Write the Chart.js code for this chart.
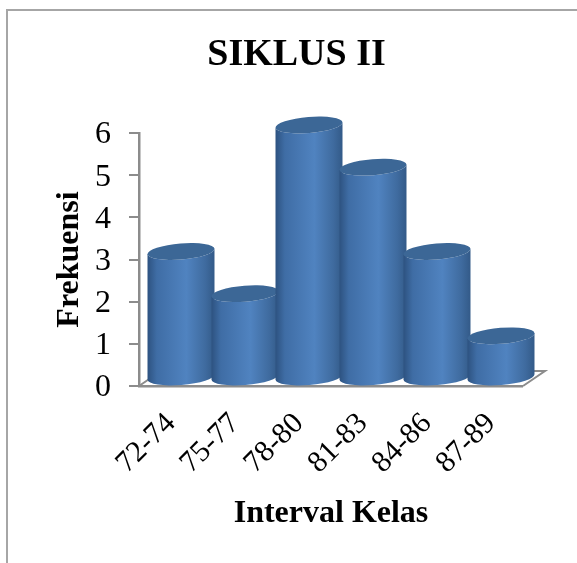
<!DOCTYPE html>
<html lang="en">
<head>
    <meta charset="UTF-8" />
    <title>SIKLUS II</title>
    <style>
        body { margin: 0; background: #fff; overflow: hidden; }
        .frame { position: absolute; left: 6px; top: 9px; width: 571px; height: 554px; border-left: 2px solid #a6a6a6; border-top: 2px solid #a6a6a6; box-sizing: border-box; }
        .chart-container { position: absolute; left: 0; top: 0; width: 577px; height: 563px; }
    </style>
    <script src="https://cdn.jsdelivr.net/npm/chart.js"></script>
</head>
<body>
    <div class="frame"></div>
    <div class="chart-container"><canvas id="histChart" width="577" height="563"></canvas></div>
    <script>
        const categories = ['72-74', '75-77', '78-80', '81-83', '84-86', '87-89'];
        const frequencies = [3, 2, 6, 5, 3, 1];

        // how far the bars sit behind the front of the floor
        const DEPTH_X = 10, DEPTH_Y = 8;
        const ELLIPSE_RY = 8;

        // Bar drawn as a tilted cylinder
        class CylinderBar extends Chart.BarElement {
            draw(ctx) {
                const { x, y, base, width } = this.getProps(['x', 'y', 'base', 'width']);
                const cx = x + DEPTH_X, rx = width / 2;
                const top = y - DEPTH_Y, bottom = base - DEPTH_Y;
                const tilt = -0.08;
                const grad = ctx.createLinearGradient(cx - rx, 0, cx + rx, 0);
                grad.addColorStop(0, '#2d5280');
                grad.addColorStop(0.14, '#3f6da5');
                grad.addColorStop(0.58, '#5083c0');
                grad.addColorStop(0.86, '#3f6b9f');
                grad.addColorStop(1, '#335a88');
                ctx.save();
                ctx.beginPath();
                ctx.ellipse(cx, top, rx, ELLIPSE_RY, tilt, Math.PI, 0, true);
                ctx.ellipse(cx, bottom, rx, ELLIPSE_RY, tilt, 0, Math.PI, false);
                ctx.closePath();
                ctx.fillStyle = grad;
                ctx.fill();
                ctx.beginPath();
                ctx.ellipse(cx, top, rx, ELLIPSE_RY, tilt, 0, Math.PI * 2);
                ctx.fillStyle = '#3c6796';
                ctx.fill();
                ctx.restore();
            }
        }
        CylinderBar.id = 'cylinderBar';
        CylinderBar.defaults = Chart.BarElement.defaults;
        CylinderBar.defaultRoutes = Chart.BarElement.defaultRoutes;

        class CylinderController extends Chart.BarController {}
        CylinderController.id = 'cylinder';
        CylinderController.defaults = Object.assign({}, Chart.BarController.defaults, { dataElementType: 'cylinderBar' });
        CylinderController.overrides = Chart.BarController.overrides;
        Chart.register(CylinderBar, CylinderController);

        // Floor of the 3d look, and the title is centred on the frame rather than the plot
        const floorPlugin = {
            id: 'floor',
            afterLayout(chart) {
                chart.titleBlock.left = 0;
                chart.titleBlock.right = 593;
            },
            beforeDatasetsDraw(chart) {
                const { ctx, chartArea: a } = chart;
                ctx.save();
                ctx.strokeStyle = '#8c8c8c';
                ctx.lineWidth = 2;
                ctx.beginPath();
                ctx.moveTo(a.left, a.bottom);
                ctx.lineTo(a.left + 22, a.bottom - 15);
                ctx.lineTo(a.right + 22, a.bottom - 15);
                ctx.lineTo(a.right, a.bottom);
                ctx.stroke();
                ctx.restore();
            }
        };

        Chart.defaults.font.family = '"Liberation Serif", serif';
        Chart.defaults.color = '#000';

        new Chart(document.getElementById('histChart').getContext('2d'), {
            type: 'cylinder',
            data: { labels: categories, datasets: [{ label: 'Frekuensi', data: frequencies, categoryPercentage: 1, barPercentage: 1.05, clip: false }] },
            options: {
                responsive: false,
                animation: false,
                layout: { padding: { left: 0, right: 54, top: 0, bottom: 0 } },
                plugins: {
                    legend: { display: false },
                    tooltip: { enabled: false },
                    title: { display: true, text: 'SIKLUS II', font: { size: 38, weight: 'bold' }, color: '#000', padding: { top: 32, bottom: 55.4 } }
                },
                scales: {
                    x: {
                        grid: { drawOnChartArea: false, drawTicks: false, lineWidth: 0 },
                        border: { color: '#8c8c8c', width: 2.5 },
                        ticks: { font: { size: 30 }, maxRotation: 45, minRotation: 45, padding: 20 },
                        title: { display: true, text: 'Interval Kelas', font: { size: 32, weight: 'bold' }, padding: { top: 14, bottom: 30 } },
                        afterFit(scale) { scale.height = 177; }
                    },
                    y: {
                        min: 0,
                        max: 6,
                        grid: { drawOnChartArea: false, color: '#8c8c8c', lineWidth: 2, tickLength: 10 },
                        border: { color: '#8c8c8c', width: 2.5 },
                        ticks: { font: { size: 32 }, stepSize: 1, padding: 18, labelOffset: 2 },
                        title: { display: true, text: 'Frekuensi', font: { size: 32, weight: 'bold' }, padding: { top: 51, bottom: 0 } },
                        afterFit(scale) { scale.width = 139; }
                    }
                }
            },
            plugins: [floorPlugin]
        });
    </script>
</body>
</html>
